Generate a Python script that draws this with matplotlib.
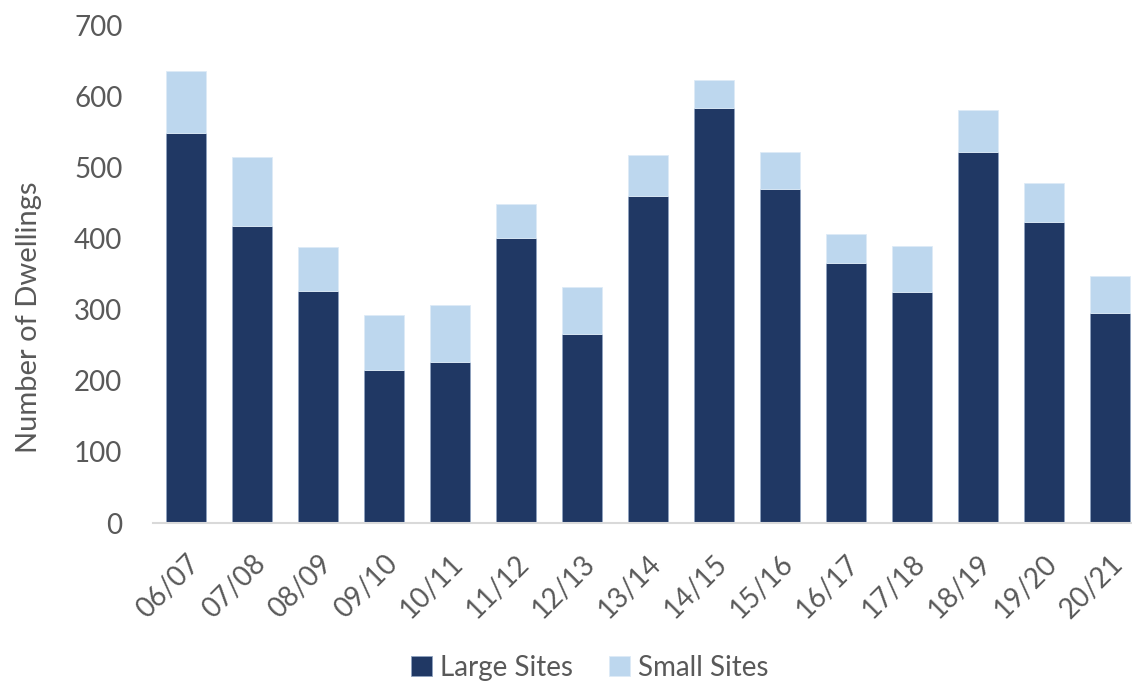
import matplotlib
matplotlib.use("Agg")
import matplotlib.pyplot as plt
import matplotlib.transforms as mtransforms
import numpy as np

years = ["06/07", "07/08", "08/09", "09/10", "10/11", "11/12", "12/13", "13/14",
         "14/15", "15/16", "16/17", "17/18", "18/19", "19/20", "20/21"]
large_sites = [548, 417, 326, 215, 227, 400, 266, 460, 583, 469, 365, 324, 521, 423, 295]
totals = [635, 515, 388, 292, 306, 448, 332, 517, 622, 521, 406, 390, 580, 478, 347]
small_sites = [t - l for t, l in zip(totals, large_sites)]

dark = "#203864"
light = "#BDD7EE"
grey = "#595959"

plt.rcParams["font.family"] = ["Lato", "DejaVu Sans"]

fig = plt.figure(figsize=(11.32, 6.86), dpi=100)
ax = fig.add_axes([153 / 1132, (686 - 523) / 686, (1132 - 153) / 1132, 498 / 686])

x = np.arange(len(years))
ax.bar(x, large_sites, width=0.6, color=dark, edgecolor="#8FA3C0", linewidth=0.6, label="Large Sites")
ax.bar(x, small_sites, width=0.6, bottom=large_sites, color=light, edgecolor="#DDEBF7",
       linewidth=0.6, label="Small Sites")

ax.set_xlim(-0.5, 14.33)
ax.set_ylim(0, 700)
ax.set_yticks(range(0, 701, 100))
ax.set_xticks(x)
ax.set_xticklabels(years, rotation=45, ha="right", rotation_mode="anchor")

# nudge rotated labels a bit left/down like the original
shift = mtransforms.ScaledTranslation(-7 / 100, -5 / 100, fig.dpi_scale_trans)
for lbl in ax.get_xticklabels():
    lbl.set_transform(lbl.get_transform() + shift)

for side in ["top", "right", "left"]:
    ax.spines[side].set_visible(False)
ax.spines["bottom"].set_color("#D9D9D9")
ax.spines["bottom"].set_linewidth(1.5)

ax.tick_params(axis="y", length=0, pad=22, labelsize=20, labelcolor=grey)
ax.tick_params(axis="x", length=0, pad=20, labelsize=20, labelcolor=grey)

ax.set_ylabel("Number of Dwellings", fontsize=21, color=grey)
ax.yaxis.set_label_coords(-0.113, 0.414)

fig.legend(loc="center", bbox_to_anchor=(590 / 1132, 1 - 668 / 686), ncol=2, frameon=False,
           fontsize=20, labelcolor=grey, handlelength=0.75, handleheight=0.75,
           handletextpad=0.3, columnspacing=1.3)

fig.savefig("out.png", dpi=100)
